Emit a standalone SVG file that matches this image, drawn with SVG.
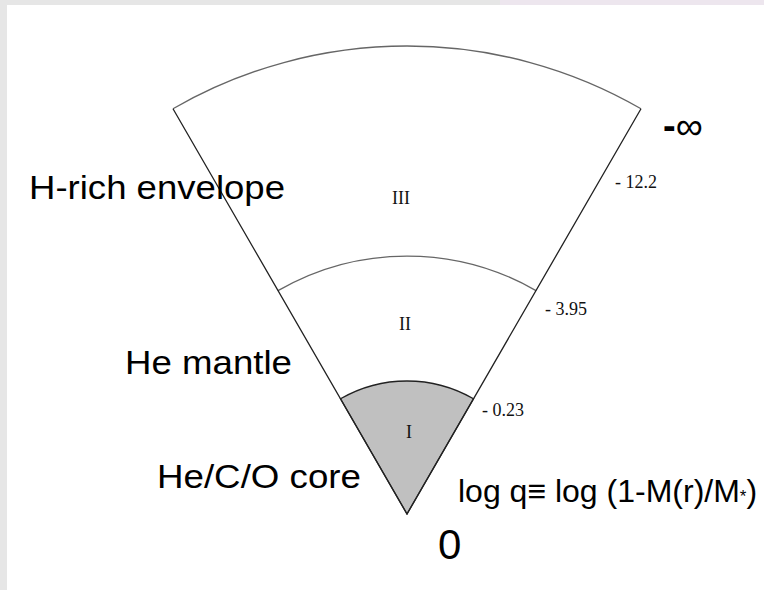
<svg xmlns="http://www.w3.org/2000/svg" width="764" height="590" viewBox="0 0 764 590">
<style>
.lab{font-family:"Liberation Sans",Arial,sans-serif;fill:#000}
.num{font-family:"Liberation Serif","Times New Roman",serif;fill:#111;font-size:18px}
.edge{fill:none;stroke:#222;stroke-width:1.3}
.arc{fill:none;stroke:#666;stroke-width:1.3}
</style>
<rect x="0" y="0" width="764" height="590" fill="#e6e6e6"/>
<rect x="500" y="0" width="264" height="5" fill="#ede6ee"/>
<rect x="7" y="5" width="757" height="585" fill="#ffffff"/>
<g id="region-I">
<path d="M407,514 L340.5,398.8 A133,133 0 0,1 473.5,398.8 Z" fill="#c0c0c0" stroke="#222" stroke-width="1.3"/>
<text class="num" x="409" y="438" text-anchor="middle">I</text>
</g>
<g id="region-II">
<path class="arc" d="M278,290.6 A258,258 0 0,1 536,290.6" stroke="#444"/>
<text class="num" x="405" y="330" text-anchor="middle">II</text>
</g>
<g id="region-III">
<path class="arc" d="M173,108.7 A468,468 0 0,1 641,108.7" stroke="#777"/>
<text class="num" x="401" y="204" text-anchor="middle">III</text>
</g>
<g id="connectors">
<path class="edge" d="M173,108.7 L407,514 L641,108.7"/>
</g>
<g id="labels">
<text class="lab" x="29" y="199" font-size="33" textLength="256" lengthAdjust="spacingAndGlyphs">H-rich envelope</text>
<text class="lab" x="125" y="374" font-size="33" textLength="167" lengthAdjust="spacingAndGlyphs">He mantle</text>
<text class="lab" x="157" y="488" font-size="33" textLength="204" lengthAdjust="spacingAndGlyphs">He/C/O core</text>
<text class="lab" x="458" y="502" font-size="32">log q≡ log (1-M(r)/M<tspan font-size="17">*</tspan>)</text>
<text class="lab" x="438" y="559" font-size="42">0</text>
<text class="lab" x="663" y="139" font-size="38" font-weight="bold">-<tspan font-weight="normal">∞</tspan></text>
</g>
<g id="ticks">
<text class="num" x="615" y="188">- 12.2</text>
<text class="num" x="545" y="315">- 3.95</text>
<text class="num" x="482" y="416">- 0.23</text>
</g>
</svg>
